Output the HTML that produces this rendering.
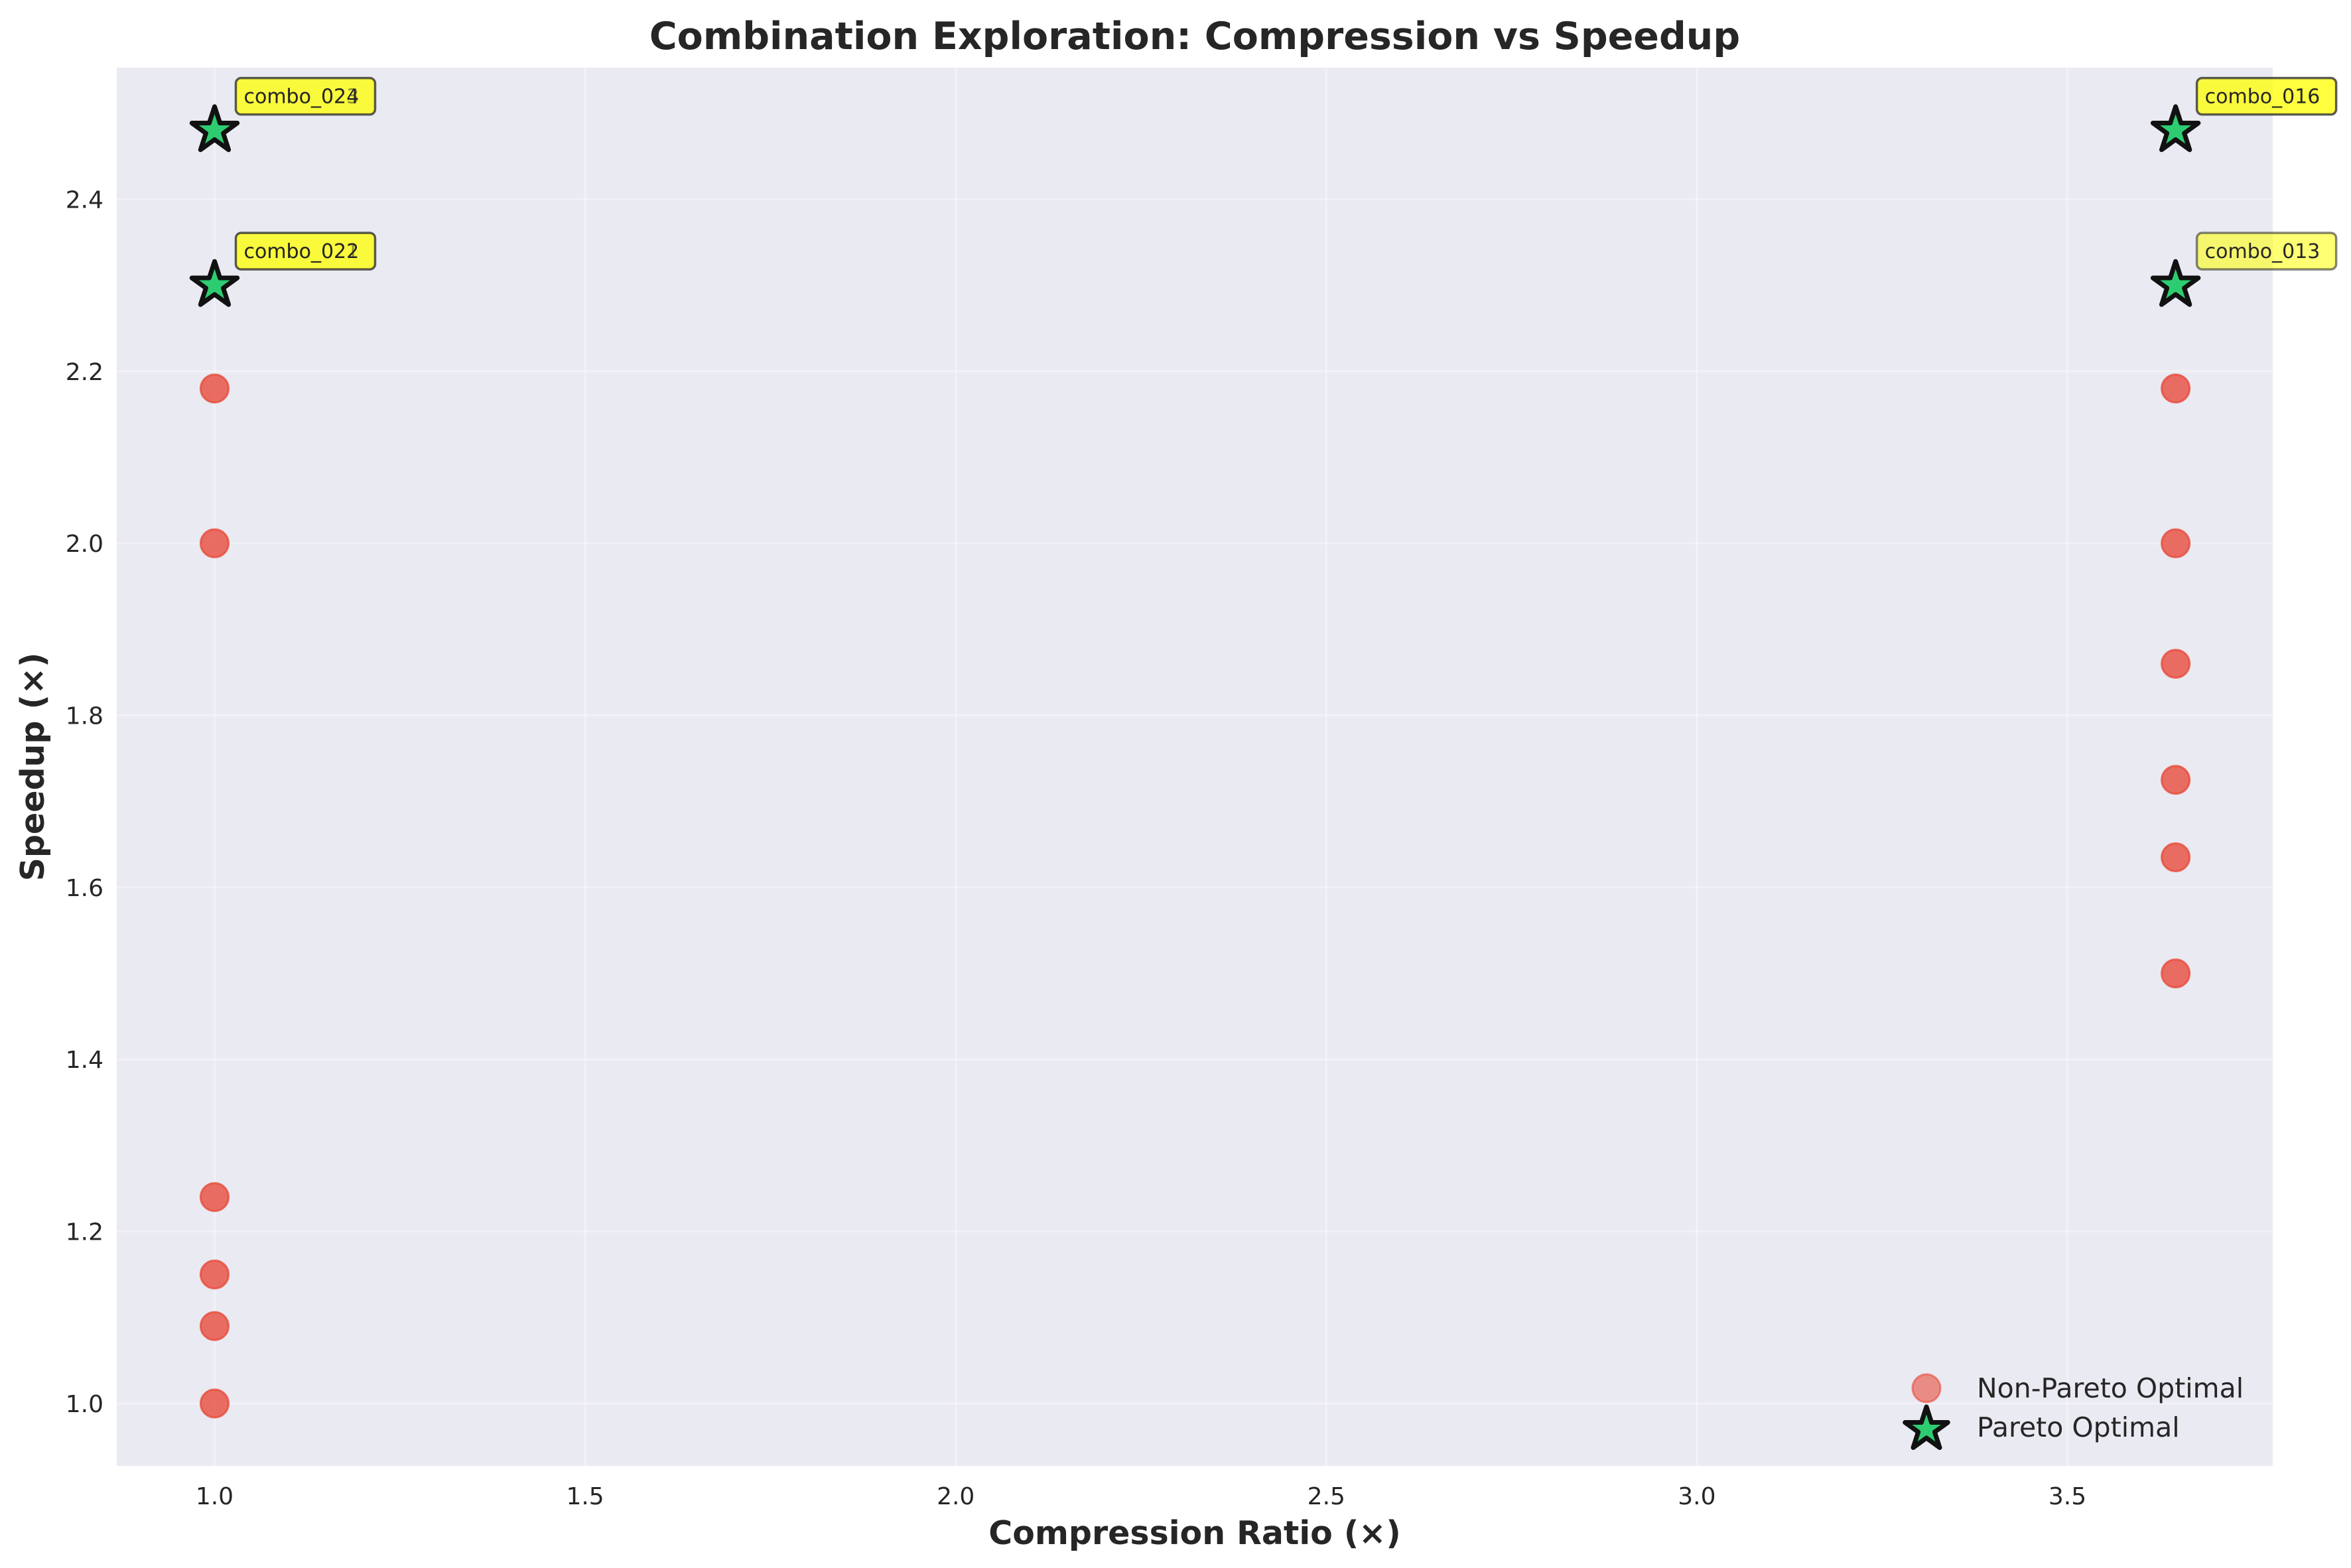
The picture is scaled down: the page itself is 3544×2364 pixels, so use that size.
<!DOCTYPE html>
<html><head><meta charset="utf-8"><style>
html,body{margin:0;padding:0;background:#fff;}
svg{display:block;}
text{font-family:"DejaVu Sans","Liberation Sans",sans-serif;fill:#262626;}
</style></head><body>
<svg id="chart" width="3544" height="2364" viewBox="0 0 3544 2364" xmlns="http://www.w3.org/2000/svg">
<rect x="0" y="0" width="3544" height="2364" fill="#fff"/>
<rect x="176" y="102" width="3250" height="2108" fill="#eaeaf2"/>
<g id="grid"></g>
<g id="ticks"></g>
<g id="marks"></g>
<g id="labels"></g>
<text x="1801" y="74" text-anchor="middle" font-size="57" font-weight="bold">Combination Exploration: Compression vs Speedup</text>
<text x="1801" y="2328" text-anchor="middle" font-size="49" font-weight="bold">Compression Ratio (×)</text>
<text x="66" y="1156" text-anchor="middle" font-size="49" font-weight="bold" transform="rotate(-90 66 1156)">Speedup (×)</text>
<g>
<circle cx="2904" cy="2093" r="21" fill="#e74c3c" fill-opacity="0.6" stroke="#e74c3c" stroke-opacity="0.6" stroke-width="3"/>
<text x="2980" y="2107" font-size="41">Non-Pareto Optimal</text>
<path id="legstar" fill="#2ecc71" stroke="#111" stroke-width="7" stroke-linejoin="round"/>
<text x="2980" y="2166" font-size="41">Pareto Optimal</text>
</g>
</svg>
<script>
const xTicks = [1.0, 1.5, 2.0, 2.5, 3.0, 3.5];
const yTicks = [1.0, 1.2, 1.4, 1.6, 1.8, 2.0, 2.2, 2.4];
const nonParetoX = [1.0, 1.0, 1.0, 1.0, 1.0, 1.0, 3.646, 3.646, 3.646, 3.646, 3.646, 3.646];
const nonParetoY = [2.18, 2.00, 1.24, 1.15, 1.09, 1.00, 2.18, 2.00, 1.86, 1.725, 1.635, 1.50];
const paretoX = [1.0, 1.0, 3.646, 3.646];
const paretoY = [2.48, 2.30, 2.48, 2.30];
const paretoNames = ["combo_024", "combo_022", "combo_016", "combo_013"];
const paretoGhost = ["combo_023", "combo_021", "", ""];
const labelAlpha = [0.8, 0.8, 0.8, 0.6];

const X0 = 0.868, X1 = 3.777, Y0 = 0.9275, Y1 = 2.553;
const L = 176, R = 3426, T = 102, B = 2210;
function sx(v){ return L + (v - X0) / (X1 - X0) * (R - L); }
function sy(v){ return B - (v - Y0) / (Y1 - Y0) * (B - T); }
const NS = "http://www.w3.org/2000/svg";
function mk(tag, attrs, parent){ const e = document.createElementNS(NS, tag); for (const k in attrs) e.setAttribute(k, attrs[k]); parent.appendChild(e); return e; }
function starPath(cx, cy, r){ let d = ""; const ri = r * 0.382; for (let i = 0; i < 10; i++){ const a = -Math.PI/2 + i * Math.PI/5; const rr = i % 2 ? ri : r; d += (i ? "L" : "M") + (cx + rr*Math.cos(a)).toFixed(1) + "," + (cy + rr*Math.sin(a)).toFixed(1); } return d + "Z"; }

const grid = document.getElementById("grid"), ticks = document.getElementById("ticks");
xTicks.forEach(v => {
  const gl = mk("line", {x1: sx(v), x2: sx(v), y1: T, y2: B, stroke: "#fff", "stroke-opacity": 0.35, "stroke-width": 3}, grid);
  
  
  const t = mk("text", {x: sx(v), y: 2268, "text-anchor": "middle", "font-size": 36}, ticks);
  t.textContent = v.toFixed(1);
  
  
});
yTicks.forEach(v => {
  const gl = mk("line", {x1: L, x2: R, y1: sy(v), y2: sy(v), stroke: "#fff", "stroke-opacity": 0.35, "stroke-width": 3}, grid);
  
  
  const t = mk("text", {x: 156, y: sy(v) + 13, "text-anchor": "end", "font-size": 36}, ticks);
  t.textContent = v.toFixed(1);
  
  
});

const marks = document.getElementById("marks"), labels = document.getElementById("labels");
nonParetoX.forEach((xv, i) => {
  const c = mk("circle", {cx: sx(xv), cy: sy(nonParetoY[i]), r: 21, fill: "#e74c3c", "fill-opacity": 0.8, stroke: "#e74c3c", "stroke-opacity": 0.8, "stroke-width": 3}, marks);
  
  
});
paretoX.forEach((xv, i) => {
  const cx = sx(xv), cy = sy(paretoY[i]);
  const s = mk("path", {d: starPath(cx, cy, 36), fill: "#2ecc71", stroke: "#111", "stroke-width": 7, "stroke-linejoin": "round"}, marks);
  
  
  const g = mk("g", {}, labels);
  
  
  mk("rect", {x: cx + 32, y: cy - 79, width: 210, height: 55, rx: 8, fill: "#ffff00", "fill-opacity": labelAlpha[i] - 0.05, stroke: "#333", "stroke-opacity": labelAlpha[i], "stroke-width": 3.5}, g);
  if (paretoGhost[i]) { const gt = mk("text", {x: cx + 44, y: cy - 41, "font-size": 30, "fill-opacity": 0.5}, g); gt.textContent = paretoGhost[i]; }
  const t = mk("text", {x: cx + 44, y: cy - 41, "font-size": 30}, g);
  t.textContent = paretoNames[i];
});
document.getElementById("legstar").setAttribute("d", starPath(2904, 2155, 34));
</script>
</body></html>
